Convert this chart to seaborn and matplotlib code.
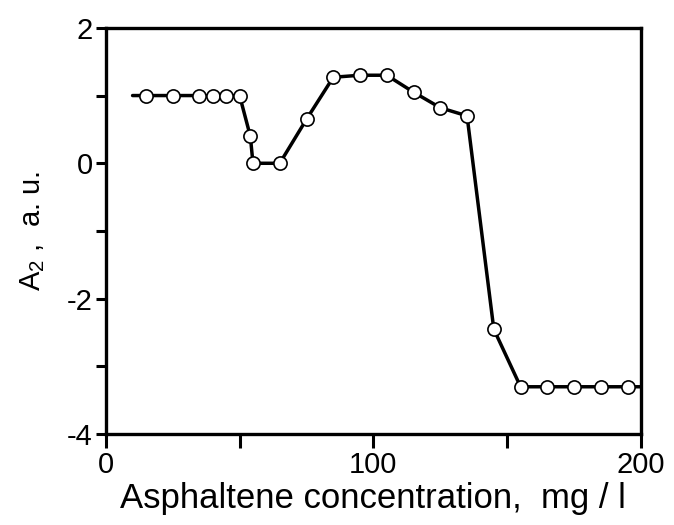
import numpy as np
import pandas as pd
import matplotlib
matplotlib.use("Agg")
import matplotlib.pyplot as plt
import seaborn as sns
from matplotlib.ticker import MultipleLocator

# concentration (mg/l) and A2 (a.u.); the first and last entries are line ends without markers
conc = [10, 15, 25, 35, 40, 45, 50, 54, 55, 65, 75, 85, 95, 105,
        115, 125, 135, 145, 155, 165, 175, 185, 195, 200]
a2 = [1.0, 1.0, 1.0, 1.0, 1.0, 1.0, 1.0, 0.4, 0.0, 0.0, 0.65, 1.27, 1.3, 1.3,
      1.05, 0.82, 0.7, -2.45, -3.3, -3.3, -3.3, -3.3, -3.3, -3.3]

x_ticks = [0, 100, 200]
y_ticks = [-4, -2, 0, 2]


def main():
	sns.set_style("white")
	plt.rcParams['font.family'] = ['Liberation Sans', 'DejaVu Sans']
	plt.rcParams['mathtext.fontset'] = 'custom'
	plt.rcParams['mathtext.rm'] = 'Liberation Sans'
	plt.rcParams['mathtext.it'] = 'Liberation Sans'
	plt.rcParams['axes.unicode_minus'] = False
	plt.rcParams['text.color'] = 'black'
	plt.rcParams['axes.labelcolor'] = 'black'
	plt.rcParams['xtick.color'] = 'black'
	plt.rcParams['ytick.color'] = 'black'

	data = pd.DataFrame({'conc': conc, 'a2': a2})

	fig = plt.figure(figsize=(6.74, 5.25), dpi=100)
	ax = fig.add_axes([0.157, 0.173, 0.794, 0.774])

	sns.lineplot(x='conc', y='a2', data=data, ax=ax, color='black', linewidth=2.5,
				 estimator=None, sort=False, marker='o', markersize=9.5,
				 markerfacecolor='white', markeredgecolor='black', markeredgewidth=1.2,
				 markevery=list(range(1, len(conc) - 1)))

	ax.set_xlim(0, 200)
	ax.set_ylim(-4, 2)
	ax.set_xticks(x_ticks)
	ax.set_yticks(y_ticks)
	ax.xaxis.set_minor_locator(MultipleLocator(50))
	ax.yaxis.set_minor_locator(MultipleLocator(1))
	ax.tick_params(which='both', direction='out', width=2.2,
				   bottom=True, left=True, labelsize=21, pad=2)
	ax.tick_params(axis='x', which='both', length=10)
	ax.tick_params(axis='y', which='both', length=7.5)
	ax.tick_params(which='minor', labelbottom=False, labelleft=False)

	for s in ax.spines.values():
		s.set_linewidth(2.4)
		s.set_color('black')
		s.set_visible(True)

	ax.set_xlabel('Asphaltene concentration,  mg / l', fontsize=25, labelpad=2)
	ax.set_ylabel(r'A$_2$ ,  a. u.', fontsize=21, labelpad=14)

	fig.savefig('out.png', dpi=100)


if __name__ == "__main__":
	main()
